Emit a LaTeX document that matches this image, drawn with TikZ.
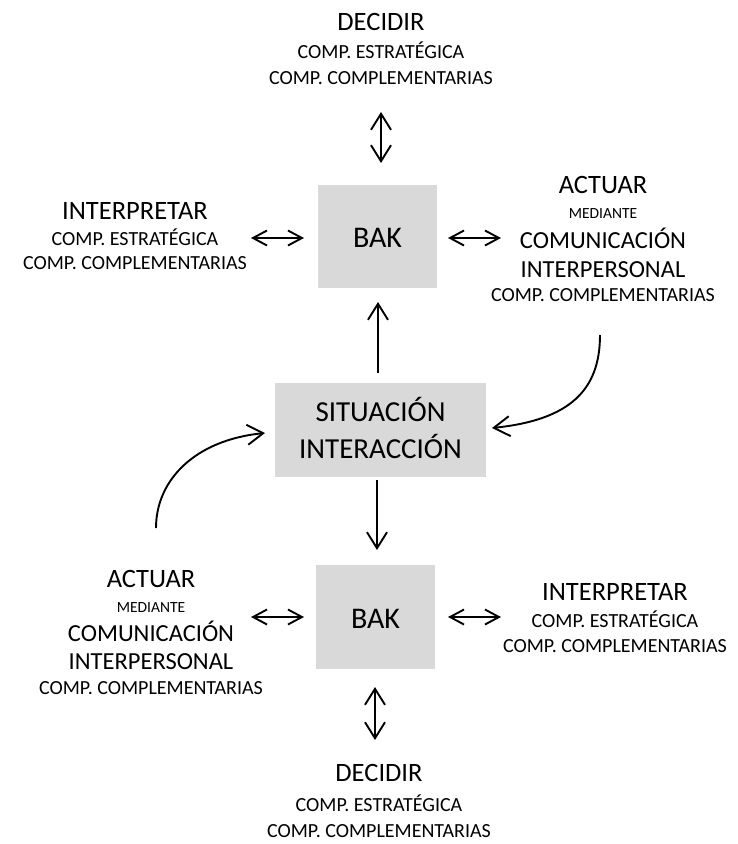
\documentclass[tikz,border=0pt]{standalone}
\usepackage{fontspec}
\setmainfont{Carlito}
\usetikzlibrary{arrows.meta}
\definecolor{boxgray}{HTML}{D9D9D9}
\tikzset{
  box/.style={fill=boxgray, inner sep=0pt},
  boxtext/.style={anchor=base, inner sep=0pt, font=\fontsize{29}{34}\selectfont},
  baktext/.style={anchor=base, inner sep=0pt, font=\fontsize{30}{34}\selectfont},
  head/.style={anchor=base, inner sep=0pt, font=\fontsize{26.5}{31}\selectfont},
  big/.style={anchor=base, inner sep=0pt, font=\fontsize{24.5}{29}\selectfont},
  small/.style={anchor=base, inner sep=0pt, font=\fontsize{20}{24}\selectfont},
  tiny/.style={anchor=base, inner sep=0pt, font=\fontsize{15.5}{19}\selectfont},
  link/.style={line width=1.9pt, -{Straight Barb[length=16pt,width=20pt]}},
  vlink/.style={line width=1.9pt, {Straight Barb[length=16pt,width=20pt]}-{Straight Barb[length=16pt,width=20pt]}},
  hlink/.style={line width=1.9pt, {Straight Barb[length=14pt,width=15pt]}-{Straight Barb[length=14pt,width=15pt]}},
}
\begin{document}
\begin{tikzpicture}[x=1pt, y=-1pt]
\useasboundingbox (0,0) rectangle (738,844);

% central boxes
\node[box, minimum width=119pt, minimum height=103pt] (bakA) at (377.5,236.5) {};
\node[baktext] (bakAt) at (377.5,247) {BAK};
\node[box, minimum width=211pt, minimum height=94pt] (sit) at (380.5,430) {};
\node[boxtext] (sit1) at (380.5,421) {SITUACIÓN};
\node[boxtext] (sit2) at (380.5,458) {INTERACCIÓN};
\node[box, minimum width=119pt, minimum height=104pt] (bakB) at (375.5,617) {};
\node[baktext] (bakBt) at (375.5,628) {BAK};

% upper decision block
\node[head] (dA0) at (381,30) {DECIDIR};
\node[small] (dA1) at (381,58) {COMP. ESTRATÉGICA};
\node[small] (dA2) at (381,84) {COMP. COMPLEMENTARIAS};

% upper interpretation block
\node[head] (iA0) at (135,219) {INTERPRETAR};
\node[small] (iA1) at (135,245) {COMP. ESTRATÉGICA};
\node[small] (iA2) at (135,269) {COMP. COMPLEMENTARIAS};

% upper action block
\node[head] (aA0) at (603,193) {ACTUAR};
\node[tiny] (aA1) at (603,218) {MEDIANTE};
\node[big] (aA2) at (603,248) {COMUNICACIÓN};
\node[big] (aA3) at (603,277) {INTERPERSONAL};
\node[small] (aA4) at (603,301) {COMP. COMPLEMENTARIAS};

% lower action block
\node[head] (aB0) at (151,587) {ACTUAR};
\node[tiny] (aB1) at (151,612) {MEDIANTE};
\node[big] (aB2) at (151,641) {COMUNICACIÓN};
\node[big] (aB3) at (151,669) {INTERPERSONAL};
\node[small] (aB4) at (151,694) {COMP. COMPLEMENTARIAS};

% lower interpretation block
\node[head] (iB0) at (615,600) {INTERPRETAR};
\node[small] (iB1) at (615,627) {COMP. ESTRATÉGICA};
\node[small] (iB2) at (615,652) {COMP. COMPLEMENTARIAS};

% lower decision block
\node[head] (dB0) at (379,781) {DECIDIR};
\node[small] (dB1) at (379,811) {COMP. ESTRATÉGICA};
\node[small] (dB2) at (379,837) {COMP. COMPLEMENTARIAS};

% connector ends
\coordinate (vA1) at (381,112);   \coordinate (vA2) at (381,163);
\coordinate (hA1) at (251,238);   \coordinate (hA2) at (304,238);
\coordinate (hA3) at (448,238);   \coordinate (hA4) at (501,238);
\coordinate (up1) at (378,373);   \coordinate (up2) at (378,302);
\coordinate (dn1) at (377,480);   \coordinate (dn2) at (377,550);
\coordinate (hB1) at (251,617);   \coordinate (hB2) at (304,617);
\coordinate (hB3) at (448,617);   \coordinate (hB4) at (501,617);
\coordinate (vB1) at (375,687);   \coordinate (vB2) at (375,740);
\coordinate (cL0) at (156,528);   \coordinate (cL1) at (265,433);
\coordinate (cR0) at (600,335);   \coordinate (cR1) at (492,428);

% connectors
\draw[vlink] (vA1) -- (vA2);
\draw[hlink] (hA1) -- (hA2);
\draw[hlink] (hA3) -- (hA4);
\draw[link] (up1) -- (up2);
\draw[link] (dn1) -- (dn2);
\draw[hlink] (hB1) -- (hB2);
\draw[hlink] (hB3) -- (hB4);
\draw[vlink] (vB1) -- (vB2);
\draw[link] (cL0) .. controls (156,480) and (195,440) .. (cL1);
\draw[link] (cR0) .. controls (600,390) and (570,420) .. (cR1);
\end{tikzpicture}
\end{document}
